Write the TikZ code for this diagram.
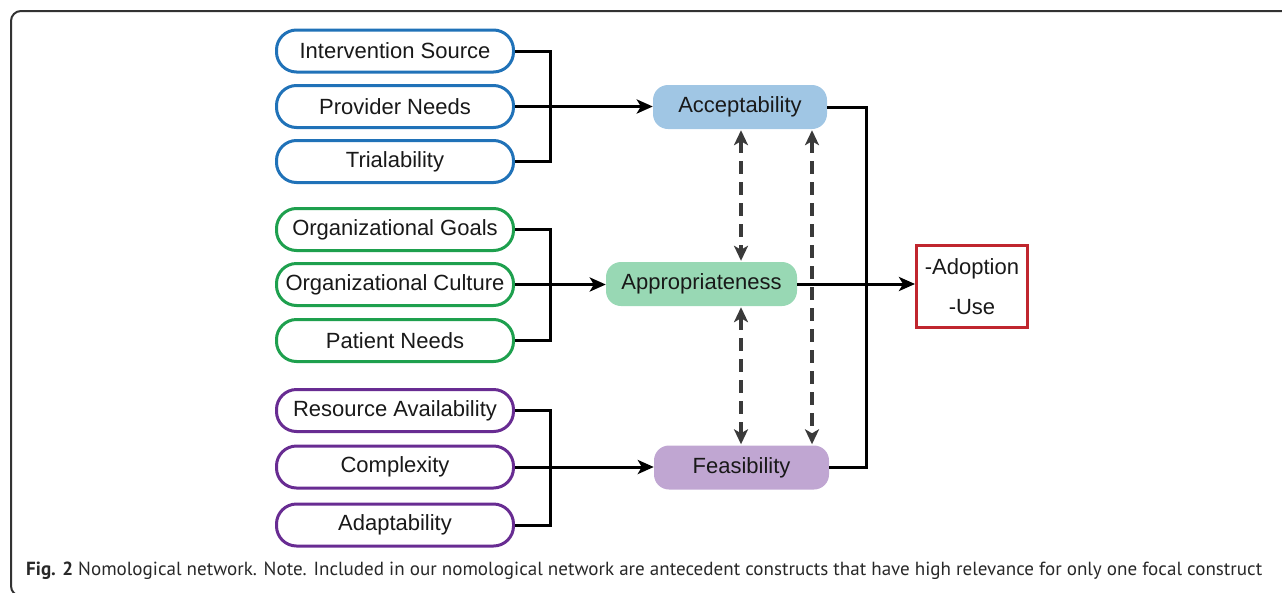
\documentclass[tikz,border=0pt]{standalone}
\usepackage{fontspec}
\usepackage{graphicx}
\setmainfont{Liberation Sans}
\newfontfamily\capfont{PT Sans}
\usetikzlibrary{arrows.meta}

\definecolor{bluebd}{RGB}{32,114,184}
\definecolor{greenbd}{RGB}{30,160,78}
\definecolor{purplebd}{RGB}{104,44,146}
\definecolor{accfill}{RGB}{160,198,228}
\definecolor{appfill}{RGB}{152,216,180}
\definecolor{feafill}{RGB}{192,166,210}
\definecolor{redbd}{RGB}{192,38,46}
\definecolor{dashgray}{RGB}{58,58,58}
\definecolor{framegray}{RGB}{50,50,50}
\definecolor{captext}{RGB}{40,40,40}

\tikzset{
  labelfont/.style={font=\fontsize{22}{26}\selectfont, text=black!90},
  antebox/.style={labelfont, rectangle, rounded corners=20pt, line width=3pt,
    minimum width=237pt, minimum height=42pt, inner sep=0pt, fill=white},
  focalbox/.style={labelfont, rectangle, rounded corners=15pt, draw=none,
    minimum height=44pt, inner sep=0pt},
  outcomebox/.style={labelfont, rectangle, draw=redbd, line width=3pt,
    minimum width=111pt, minimum height=82pt, inner sep=0pt, align=center,
    font=\fontsize{22}{40}\selectfont},
  conn/.style={line width=3pt, black},
  connarrow/.style={conn, -{Stealth[length=16pt,width=14pt,inset=4pt]}},
  dashln/.style={line width=3.5pt, dashgray, dash pattern=on 13pt off 8pt,
    {Stealth[length=15pt,width=14pt,inset=4pt]}-{Stealth[length=15pt,width=14pt,inset=4pt]},
    shorten <=1pt, shorten >=1pt},
}

\begin{document}
\begin{tikzpicture}[x=1pt,y=-1pt]
\useasboundingbox (0,0) rectangle (1282,592);
\clip (0,0) rectangle (1282,592);

% figure frame
\draw[framegray, line width=2pt, rounded corners=10pt]
  (1300,11) -- (11,11) -- (11,596) -- (40,596);

% antecedent constructs
\node[antebox, draw=bluebd] (is) at (395,51) {Intervention Source};
\node[antebox, draw=bluebd] (pn) at (395,106.5) {Provider Needs};
\node[antebox, draw=bluebd] (tr) at (395,161.5) {Trialability};

\node[antebox, draw=greenbd] (og) at (395,229.5) {Organizational Goals};
\node[antebox, draw=greenbd] (oc) at (395,284.5) {Organizational Culture};
\node[antebox, draw=greenbd] (pt) at (395,340.5) {Patient Needs};

\node[antebox, draw=purplebd] (ra) at (395,410.5) {Resource Availability};
\node[antebox, draw=purplebd] (cx) at (395,467) {Complexity};
\node[antebox, draw=purplebd] (ad) at (395,525) {Adaptability};

% focal constructs
\node[focalbox, fill=accfill, minimum width=174pt] (acc) at (740,107) {Acceptability};
\node[focalbox, fill=appfill, minimum width=191pt] (app) at (701.5,284) {Appropriateness};
\node[focalbox, fill=feafill, minimum width=175pt] (fea) at (741.5,467.5) {Feasibility};

% outcome
\node[outcomebox] (out) at (972,286.5) {-Adoption\\-Use};

% junction columns
\coordinate (jA) at (550,106.5);
\coordinate (jB) at (550,284.5);
\coordinate (jC) at (550,467);
\coordinate (jR) at (866,284);
\coordinate (dx1) at (741,0);
\coordinate (dx2) at (812,0);

% brackets into the focal constructs
\draw[conn] (is.east) -| (jA) |- (tr.east);
\draw[connarrow] (pn.east) -- (pn.east -| acc.west);

\draw[conn] (og.east) -| (jB) |- (pt.east);
\draw[connarrow] (oc.east) -- (oc.east -| app.west);

\draw[conn] (ra.east) -| (jC) |- (ad.east);
\draw[connarrow] (cx.east) -- (cx.east -| fea.west);

% links between focal constructs
\draw[dashln] (acc.south -| dx1) -- (app.north -| dx1);
\draw[dashln] (app.south -| dx1) -- (fea.north -| dx1);
\draw[dashln] (acc.south -| dx2) -- (fea.north -| dx2);

% into the outcome
\draw[conn] (acc.east) -| (jR) |- (fea.east);
\draw[connarrow] (app.east) -- (app.east -| out.west);

% caption
\node[anchor=base west, inner sep=0pt, text=captext] (cap) at (26,575)
  {\resizebox{1236pt}{\height}{\capfont\fontsize{19}{22}\selectfont\textbf{Fig. 2} Nomological network. Note. Included in our nomological network are antecedent constructs that have high relevance for only one focal construct}};
\end{tikzpicture}
\end{document}
